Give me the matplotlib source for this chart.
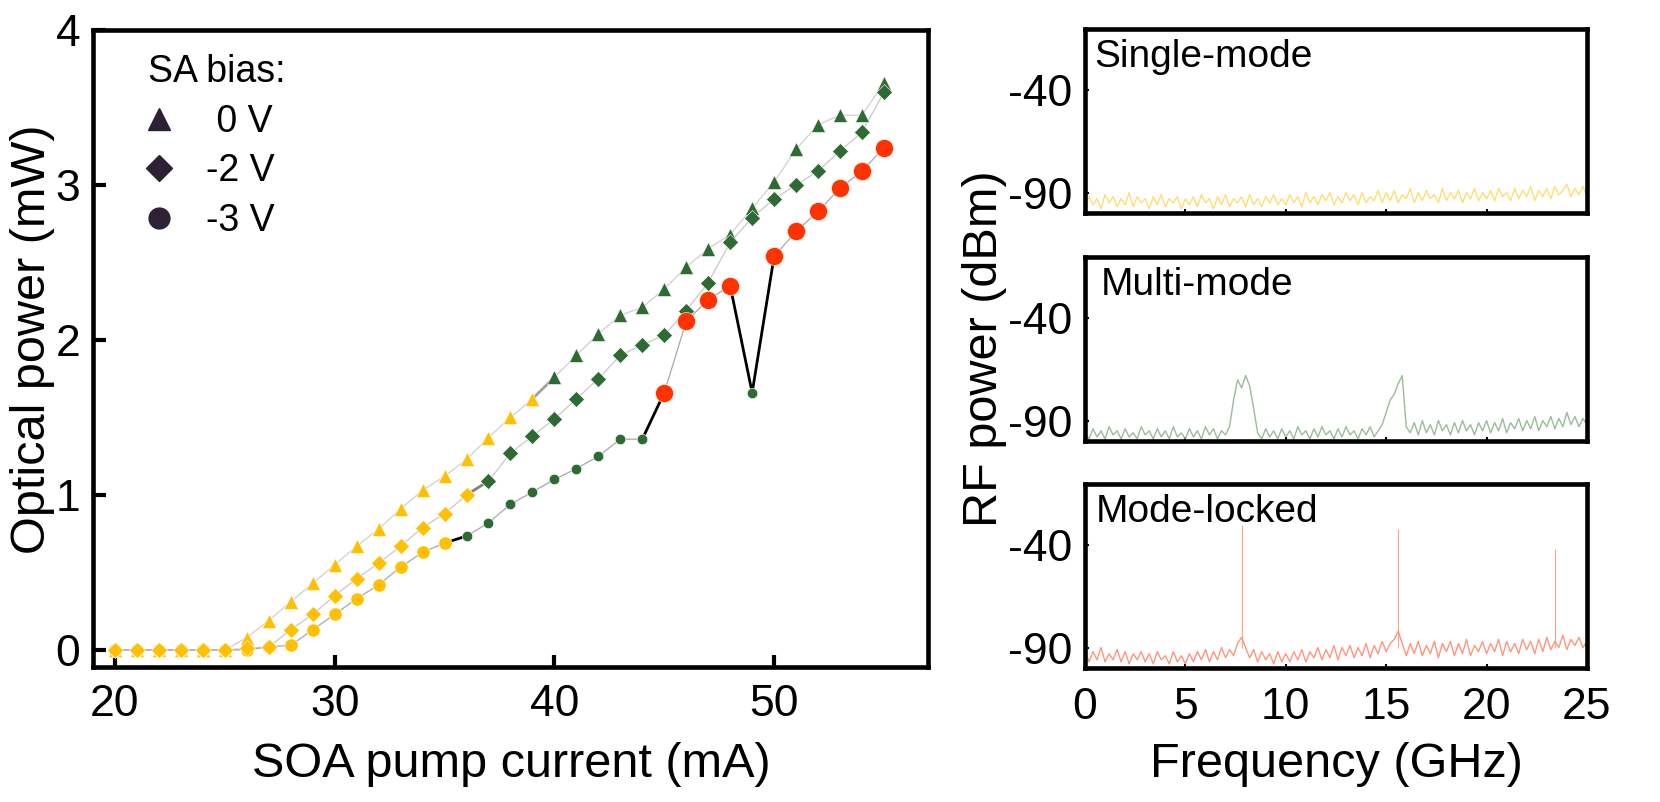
import numpy as np
import matplotlib.pyplot as plt
from matplotlib.lines import Line2D

plt.rcParams['font.family'] = ['Liberation Sans', 'DejaVu Sans']
plt.rcParams['axes.unicode_minus'] = False

# L-I curves, SOA pump current in mA, optical power in mW
current = list(range(20, 56))
p_0v = [0, 0, 0, 0, 0, 0, 0.08, 0.19, 0.31, 0.43, 0.55, 0.67, 0.78, 0.91, 1.03, 1.12,
        1.23, 1.37, 1.50, 1.62, 1.76, 1.90, 2.04, 2.16, 2.21, 2.33, 2.47, 2.59, 2.68,
        2.85, 3.02, 3.23, 3.39, 3.45, 3.45, 3.66]
p_2v = [0, 0, 0, 0, 0, 0, 0.01, 0.02, 0.13, 0.23, 0.35, 0.46, 0.56, 0.67, 0.79, 0.88,
        1.00, 1.09, 1.27, 1.38, 1.49, 1.62, 1.75, 1.90, 1.97, 2.03, 2.19, 2.37, 2.63,
        2.79, 2.91, 3.00, 3.09, 3.22, 3.34, 3.60]
p_3v = [0, 0, 0, 0, 0, 0, 0, 0.02, 0.03, 0.13, 0.23, 0.33, 0.42, 0.535, 0.63, 0.69,
        0.735, 0.82, 0.94, 1.02, 1.10, 1.17, 1.25, 1.36, 1.36, 1.66, 2.12, 2.26, 2.35,
        1.66, 2.54, 2.70, 2.83, 2.98, 3.09, 3.24]
# operating regime per point: Y = single-mode, G = multi-mode, R = mode-locked
regime_0v = "YYYYYYYYYYYYYYYYYYYYGGGGGGGGGGGGGGGG"
regime_2v = "YYYYYYYYYYYYYYYYYGGGGGGGGGGGGGGGGGGG"
regime_3v = "YYYYYYYYYYYYYYYYGGGGGGGGGRRRRGRRRRRR"

# RF spectra, 0.2 GHz sample grid
freq = np.arange(126) * 0.2
rf_single = [-97, -92, -96, -93, -98, -91, -95, -92, -97, -93, -96, -90, -97, -92, -95, -93, -98, -92, -96, -91, -97, -93, -95, -92, -98,
             -93, -96, -92, -97, -91, -95, -93, -98, -92, -96, -91, -97, -93, -95, -92, -97, -91, -96, -93, -97, -92, -95, -91, -96, -93,
             -96, -91, -95, -92, -97, -90, -95, -92, -96, -91, -94, -90, -96, -92, -95, -90, -94, -91, -96, -90, -95, -92, -94, -89, -95,
             -90, -94, -89, -95, -91, -93, -88, -95, -90, -94, -89, -93, -91, -95, -88, -94, -90, -93, -89, -95, -90, -93, -88, -94, -90,
             -93, -89, -94, -88, -92, -90, -94, -88, -93, -89, -92, -87, -94, -89, -92, -88, -93, -87, -91, -89, -86, -92, -88, -91, -87,
             -92]
rf_multi = [-96, -99, -94, -98, -95, -99, -93, -97, -95, -99, -94, -98, -96, -99, -93, -97, -95, -99, -94, -98, -95, -99, -93, -98, -96,
            -99, -94, -98, -95, -99, -93, -97, -94, -99, -95, -97, -93, -80, -70, -74, -68, -73, -84, -96, -99, -94, -98, -95, -99, -94,
            -98, -95, -99, -93, -97, -95, -99, -94, -98, -93, -97, -95, -99, -94, -98, -93, -97, -95, -99, -94, -97, -93, -98, -95, -92,
            -86, -80, -77, -72, -68, -93, -96, -91, -97, -90, -96, -92, -97, -90, -95, -92, -97, -91, -96, -90, -95, -92, -97, -91, -95,
            -90, -96, -91, -95, -89, -96, -91, -94, -89, -95, -90, -94, -88, -95, -90, -93, -88, -94, -89, -93, -86, -92, -88, -93, -89,
            -92]
rf_locked = [-91, -97, -92, -96, -90, -97, -93, -96, -91, -97, -92, -98, -93, -96, -92, -97, -93, -98, -92, -96, -94, -98, -92, -97, -94,
             -98, -93, -97, -92, -96, -91, -97, -92, -96, -90, -95, -91, -94, -88, -85, -90, -95, -91, -97, -92, -96, -93, -98, -92, -97,
             -93, -97, -92, -96, -91, -97, -92, -95, -90, -96, -91, -95, -89, -96, -90, -94, -89, -95, -90, -94, -88, -95, -89, -93, -87,
             -92, -88, -86, -82, -88, -94, -88, -93, -87, -94, -89, -93, -87, -95, -88, -92, -87, -94, -88, -93, -86, -94, -89, -92, -87,
             -93, -88, -92, -86, -94, -87, -92, -88, -93, -86, -91, -87, -93, -86, -92, -85, -91, -87, -90, -84, -91, -86, -89, -85, -90,
             -87]
# mode-locked beat-note lines
beat_freq = [7.8, 15.6, 23.4]
beat_level = [-30, -32, -42]

regime_color = {'Y': '#FFC000', 'G': '#2E6B34', 'R': '#FF3300'}
circle_size = {'Y': 9.5, 'G': 7.5, 'R': 13}

fig = plt.figure(figsize=(16.6, 8.02), dpi=100)

# ---- left: optical power vs pump current ----
ax = fig.add_axes([0.0560, 0.1683, 0.5030, 0.7943])

series = [(p_0v, regime_0v, '^', '#d0d0d0', '#a0a0a0'),
          (p_2v, regime_2v, 'D', '#c8c8c8', '#808080'),
          (p_3v, regime_3v, 'o', '#a8a8a8', 'black')]

for p, regime, mk, line_col, jump_col in series:
    ax.plot(current, p, color=line_col, lw=0.9, zorder=1)
    # darker segment where the operating regime changes
    for i in range(len(p) - 1):
        if regime[i] != regime[i + 1]:
            ax.plot(current[i:i + 2], p[i:i + 2], color=jump_col, lw=2, zorder=1.5)
    for i in range(len(p)):
        r = regime[i]
        if mk == 'o':
            ms = circle_size[r]
            z = 5 if r == 'R' else 3
        elif mk == 'D':
            ms, z = 8, 4
        else:
            ms, z = 9.5, 3
        ax.plot(current[i], p[i], marker=mk, ms=ms, color=regime_color[r],
                mec='white', mew=0.4, ls='none', zorder=z)

ax.set_xlim(19.0, 57.0)
ax.set_ylim(-0.11, 4.0)
ax.set_xticks([20, 30, 40, 50])
ax.set_yticks([0, 1, 2, 3, 4])
ax.tick_params(direction='in', length=9, width=3, labelsize=32, pad=12)
ax.tick_params(axis='y', pad=9)
for s in ax.spines.values():
    s.set_linewidth(3.3)

handles = [Line2D([], [], marker='^', ls='none', color='#2D2133', ms=16),
           Line2D([], [], marker='D', ls='none', color='#2D2133', ms=13),
           Line2D([], [], marker='o', ls='none', color='#2D2133', ms=15)]
leg = ax.legend(handles, [' 0 V', '-2 V', '-3 V'], title='SA bias:', loc='upper left',
                bbox_to_anchor=(0.066, 0.962), frameon=False, fontsize=27,
                title_fontsize=27, alignment='left', handlelength=0.6,
                handletextpad=0.95, labelspacing=0.36, borderpad=0, borderaxespad=0)

fig.text(0.0195, 0.577, 'Optical power (mW)', rotation=90, ha='center', va='center', fontsize=35)
fig.text(0.308, 0.047, 'SOA pump current (mA)', ha='center', va='center', fontsize=35)

# ---- right: RF spectra ----
panels = [(0.7344, rf_single, '#FFD966', 'Single-mode', 0.018),
          (0.4501, rf_multi, '#8FB58F', 'Multi-mode', 0.032),
          (0.1671, rf_locked, '#FF8A70', 'Mode-locked', 0.022)]

for k, (bottom, trace, col, name, tx) in enumerate(panels):
    a = fig.add_axes([0.6536, bottom, 0.3024, 0.2294])
    a.plot(freq, trace, color=col, lw=1.0, alpha=0.9)
    if name == 'Mode-locked':
        a.vlines(beat_freq, -90, beat_level, color=col, lw=0.8, alpha=0.8)
    a.set_xlim(0, 25)
    a.set_ylim(-100, -10)
    a.set_yticks([-40, -90])
    a.set_xticks([0, 5, 10, 15, 20, 25])
    a.tick_params(direction='in', length=3, width=1.5, labelsize=32, pad=9)
    if k < 2:
        a.tick_params(labelbottom=False)
    else:
        a.tick_params(axis='x', pad=14)
    for s in a.spines.values():
        s.set_linewidth(3.3)
    a.text(tx, 0.85, name, transform=a.transAxes, ha='left', va='center', fontsize=28)

fig.text(0.593, 0.565, 'RF power (dBm)', rotation=90, ha='center', va='center', fontsize=35)
fig.text(0.805, 0.047, 'Frequency (GHz)', ha='center', va='center', fontsize=35)

fig.savefig('out.png', dpi=100)
